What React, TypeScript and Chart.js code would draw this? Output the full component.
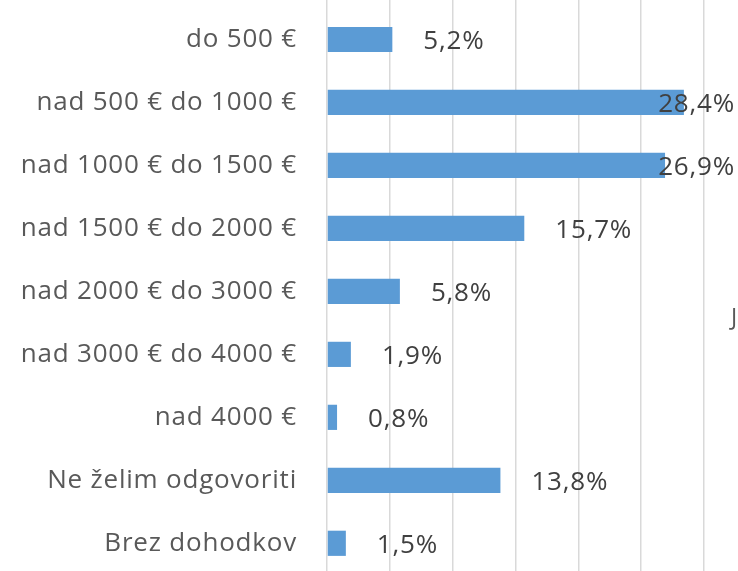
import React, { useEffect, useRef } from "react";
import { Chart, registerables } from "chart.js";

Chart.register(...registerables);

const categories = [
  "do 500 €",
  "nad 500 € do 1000 €",
  "nad 1000 € do 1500 €",
  "nad 1500 € do 2000 €",
  "nad 2000 € do 3000 €",
  "nad 3000 € do 4000 €",
  "nad 4000 €",
  "Ne želim odgovoriti",
  "Brez dohodkov",
];
const values = [5.2, 28.4, 26.9, 15.7, 5.8, 1.9, 0.8, 13.8, 1.5];
const valueLabels = ["5,2%", "28,4%", "26,9%", "15,7%", "5,8%", "1,9%", "0,8%", "13,8%", "1,5%"];
const xTicks = [0, 5, 10, 15, 20, 25, 30];
const strayText = "J";

const FONT = "'Open Sans', sans-serif";
const SPACING = "0.8px";

export default function App() {
  const ref = useRef<HTMLCanvasElement | null>(null);

  useEffect(() => {
    if (!ref.current) return;
    const labelPlugin = {
      id: "valueLabels",
      beforeDraw(chart: any) {
        (chart.ctx as any).letterSpacing = SPACING;
      },
      afterDatasetsDraw(chart: any) {
        const ctx = chart.ctx;
        const meta = chart.getDatasetMeta(0);
        ctx.save();
        (ctx as any).letterSpacing = SPACING;
        ctx.font = `26px ${FONT}`;
        ctx.fillStyle = "#404040";
        ctx.textBaseline = "middle";
        ctx.textAlign = "left";
        meta.data.forEach((bar: any, i: number) => {
          const t = valueLabels[i];
          const w = ctx.measureText(t).width;
          const x = Math.min(bar.x + 31, chart.width - 3 - w);
          ctx.fillText(t, x, bar.y + 2);
        });
        ctx.font = `23px ${FONT}`;
        ctx.fillStyle = "#595959";
        ctx.fillText(strayText, 731, 318);
        ctx.restore();
      },
    };

    const chart = new Chart(ref.current, {
      type: "bar",
      data: {
        datasets: [
          {
            data: values.map((v, i) => ({ x: v, y: i })),
            backgroundColor: "#5B9BD5",
            borderWidth: 0,
            barPercentage: 0.4,
            categoryPercentage: 1,
          },
        ],
      },
      options: {
        indexAxis: "y",
        animation: false,
        responsive: false,
        devicePixelRatio: 1,
        layout: { padding: { left: 0, top: 0, bottom: 0, right: 34 } },
        plugins: { legend: { display: false }, tooltip: { enabled: false } },
        scales: {
          x: {
            type: "linear",
            min: 0,
            max: 30,
            afterBuildTicks: (scale: any) => {
              scale.ticks = xTicks.map((v) => ({ value: v }));
            },
            afterFit: (scale: any) => {
              scale.height = 0;
              scale.paddingLeft = 0;
              scale.paddingRight = 0;
            },
            ticks: { display: false },
            grid: { color: "#D9D9D9", lineWidth: 1.5, drawTicks: false },
            border: { display: false },
          },
          y: {
            type: "linear",
            reverse: true,
            offset: false,
            min: -0.627,
            max: 8.44,
            afterBuildTicks: (scale: any) => {
              scale.ticks = categories.map((_, i) => ({ value: i }));
            },
            afterFit: (scale: any) => {
              scale.width = 327;
              scale.paddingTop = 0;
              scale.paddingBottom = 0;
            },
            ticks: {
              padding: 30,
              color: "#595959",
              font: { family: FONT, size: 26 },
              callback: (v: any) => categories[Math.round(v)] ?? "",
            },
            grid: { display: false, drawTicks: false, offset: false },
            border: { display: false },
          },
        },
      },
      plugins: [labelPlugin],
    });
    return () => chart.destroy();
  }, []);

  return (
    <div style={{ position: "fixed", left: 0, top: 0, width: 738, height: 571, background: "#fff" }}>
      <canvas ref={ref} width={738} height={571} style={{ display: "block" }} />
    </div>
  );
}
